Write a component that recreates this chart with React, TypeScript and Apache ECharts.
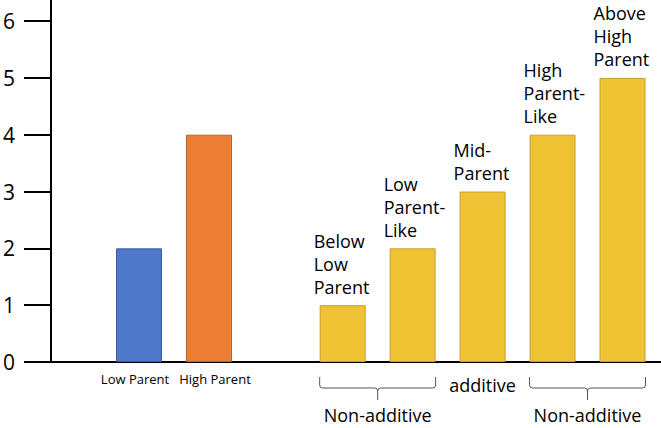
import React, { useEffect, useRef } from "react";
import * as echarts from "echarts";

const yTicks = [0, 1, 2, 3, 4, 5, 6];
const yMax = 6.37;

const parentCategories = ["Low Parent", "High Parent"];
const parentValues = [2, 4];
const parentColors = ["#4E78C9", "#EB7D35"];
const parentBorders = ["#3D5E9C", "#B5652F"];

const hybridCategories = [
  "Below Low Parent",
  "Low Parent-Like",
  "Mid-Parent",
  "High Parent-Like",
  "Above High Parent",
];
const hybridLabels = [
  "Below\nLow\nParent",
  "Low\nParent-\nLike",
  "Mid-\nParent",
  "High\nParent-\nLike",
  "Above\nHigh\nParent",
];
const hybridValues = [1, 2, 3, 4, 5];
const hybridColor = "#EEC232";
const hybridBorder = "#C4A030";

const groups = [
  { name: "Non-additive", from: 0, to: 1, brace: true },
  { name: "additive", from: 2, to: 2, brace: false },
  { name: "Non-additive", from: 3, to: 4, brace: true },
];

const FONT = "'Open Sans', 'Noto Sans', sans-serif";

const Brace = (echarts as any).graphic.extendShape({
  type: "brace",
  shape: { x1: 0, x2: 0, y: 0, h: 0, tip: 0, r: 4 },
  buildPath(ctx: any, s: any) {
    const xc = (s.x1 + s.x2) / 2;
    const yb = s.y + s.h;
    ctx.moveTo(s.x1, s.y);
    ctx.lineTo(s.x1, yb - s.r);
    ctx.quadraticCurveTo(s.x1, yb, s.x1 + s.r, yb);
    ctx.lineTo(xc - s.r, yb);
    ctx.quadraticCurveTo(xc, yb, xc, yb + s.r);
    ctx.lineTo(xc, yb + s.tip);
    ctx.moveTo(s.x2, s.y);
    ctx.lineTo(s.x2, yb - s.r);
    ctx.quadraticCurveTo(s.x2, yb, s.x2 - s.r, yb);
    ctx.lineTo(xc + s.r, yb);
    ctx.quadraticCurveTo(xc, yb, xc, yb + s.r);
  },
});
(echarts as any).graphic.registerShape("brace", Brace);

export default function App() {
  const ref = useRef<HTMLDivElement>(null);

  useEffect(() => {
    if (!ref.current) return;
    const chart = echarts.init(ref.current, null, { renderer: "svg" });
    const hiddenY = (gridIndex: number) => ({
      type: "value",
      gridIndex,
      min: 0,
      max: yMax,
      show: false,
    });
    const option: any = {
      animation: false,
      backgroundColor: "#ffffff",
      textStyle: { fontFamily: FONT },
      grid: [
        { left: 51, right: 0, top: 0, bottom: 66 },
        { left: 104, width: 140, top: 0, bottom: 66 },
        { left: 307.7, width: 349.8, top: 0, bottom: 66 },
      ],
      xAxis: [
        {
          type: "value",
          gridIndex: 0,
          min: 0,
          max: 1,
          axisLine: { show: true, onZero: false, lineStyle: { color: "#000", width: 2 } },
          axisTick: { show: false },
          axisLabel: { show: false },
          splitLine: { show: false },
        },
        {
          type: "category",
          gridIndex: 1,
          data: parentCategories.map((c, i) => ({
            value: c,
            textStyle: { padding: i === 0 ? [0, 8, 0, 0] : [0, 0, 0, 12] },
          })),
          axisLine: { show: false },
          axisTick: { show: false },
          axisLabel: {
            interval: 0,
            hideOverlap: false,
            fontSize: 13,
            color: "#000",
            margin: 10,
            fontFamily: FONT,
          },
        },
        {
          type: "category",
          gridIndex: 2,
          data: hybridCategories,
          axisLine: { show: false },
          axisTick: { show: false },
          axisLabel: { show: false },
        },
      ],
      yAxis: [
        {
          type: "value",
          gridIndex: 0,
          min: 0,
          max: yMax,
          interval: 1,
          axisLine: { show: true, lineStyle: { color: "#000", width: 2 } },
          axisTick: {
            show: true,
            length: 27,
            customValues: yTicks,
            lineStyle: { color: "#000", width: 2 },
          },
          axisLabel: {
            customValues: yTicks,
            fontSize: 21,
            color: "#000",
            margin: 36,
            fontFamily: FONT,
          },
          splitLine: { show: false },
        },
        hiddenY(1),
        hiddenY(2),
      ],
      series: [
        {
          type: "bar",
          xAxisIndex: 1,
          yAxisIndex: 1,
          barWidth: 46,
          data: parentValues.map((v, i) => ({
            value: v,
            itemStyle: { color: parentColors[i], borderColor: parentBorders[i], borderWidth: 1 },
          })),
        },
        {
          type: "bar",
          xAxisIndex: 2,
          yAxisIndex: 2,
          barWidth: 46,
          data: hybridValues,
          itemStyle: { color: hybridColor, borderColor: hybridBorder, borderWidth: 1 },
          label: {
            show: true,
            position: [-6, -7],
            align: "left",
            verticalAlign: "bottom",
            formatter: (p: any) => hybridLabels[p.dataIndex],
            fontSize: 18,
            lineHeight: 23,
            color: "#000",
            fontFamily: FONT,
          },
        },
      ],
    };
    chart.setOption(option);

    const half = 23;
    const elements: any[] = [];
    groups.forEach((g) => {
      const xa = chart.convertToPixel({ xAxisIndex: 2 } as any, hybridCategories[g.from]) as any as number;
      const xb = chart.convertToPixel({ xAxisIndex: 2 } as any, hybridCategories[g.to]) as any as number;
      const xc = (xa + xb) / 2;
      if (g.brace) {
        elements.push({
          type: "brace",
          shape: { x1: xa - half, x2: xb + half, y: 377, h: 11, tip: 12, r: 3 },
          style: { stroke: "#555", lineWidth: 1, fill: null },
          silent: true,
        });
      }
      elements.push({
        type: "text",
        x: xc,
        y: g.brace ? 415 : 385,
        style: {
          text: g.name,
          fontSize: 18,
          fontFamily: FONT,
          fill: "#000",
          align: "center",
          verticalAlign: "middle",
        },
      });
    });
    chart.setOption({ graphic: { elements } });

    return () => chart.dispose();
  }, []);

  return (
    <div
      ref={ref}
      style={{ position: "fixed", left: 0, top: 0, width: 661, height: 428 }}
    />
  );
}
